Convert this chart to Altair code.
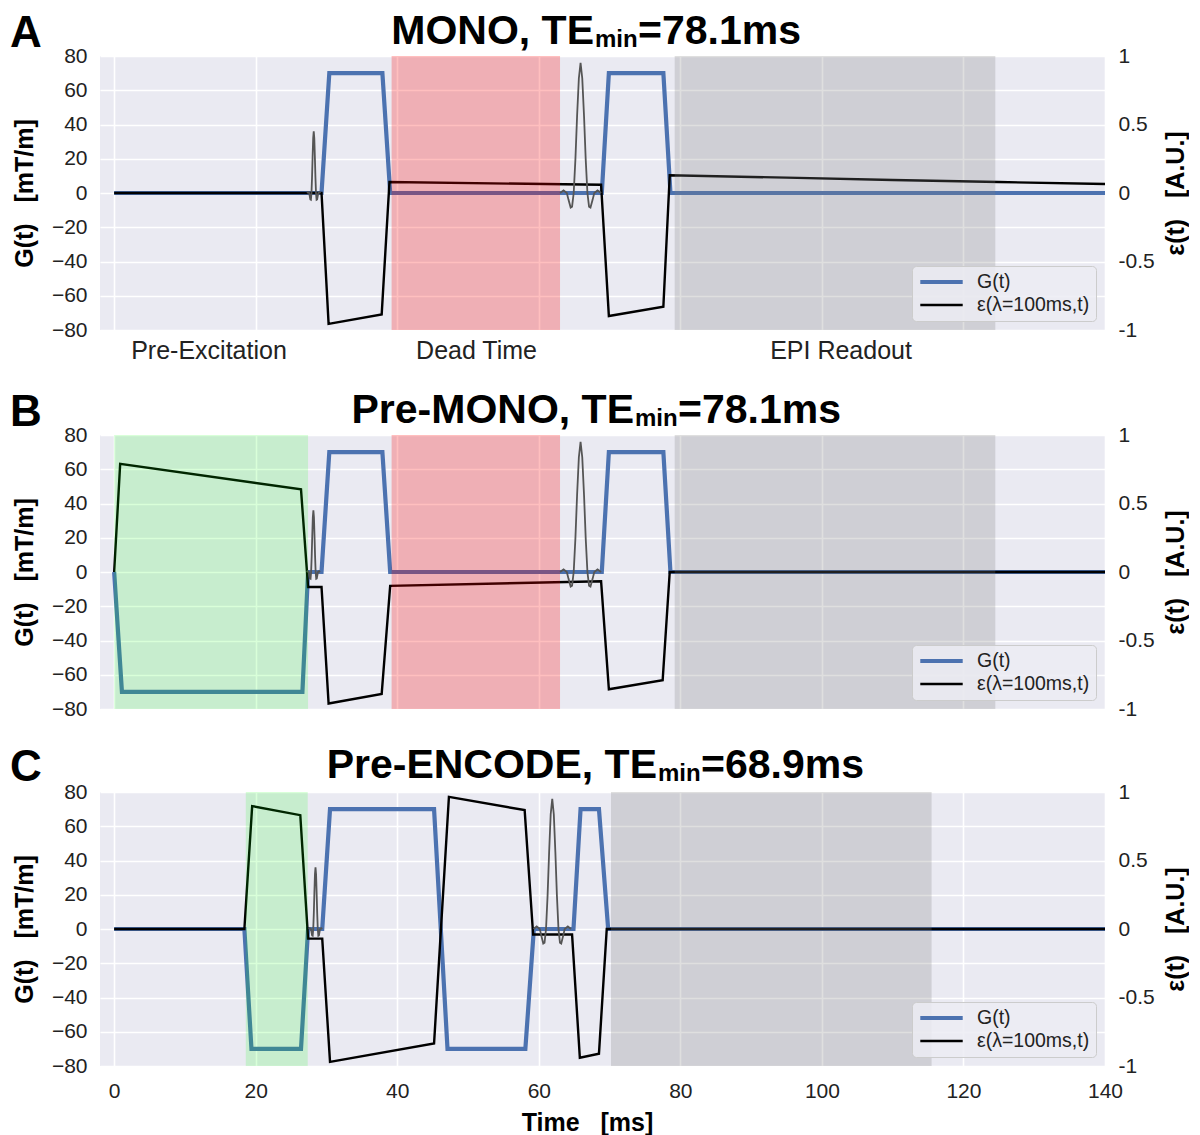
import altair as alt
import pandas as pd

FONT = "Liberation Sans"
BLUE = "#4C72B0"
BLACK = "#000000"
RF_GRAY = "#555555"
BG = "#EAEAF2"

W = 1005
H = 274

# ---------------- data ----------------
x_domain = [-2, 140]
x_ticks = [0, 20, 40, 60, 80, 100, 120, 140]
g_domain = [-80, 80]
g_ticks = [-80, -60, -40, -20, 0, 20, 40, 60, 80]
eps_domain = [-1, 1]
eps_ticks = [-1, -0.5, 0, 0.5, 1]

series_names = ["G(t)", "ε(λ=100ms,t)"]

panel_letters = ["A", "B", "C"]
title_main = ["MONO, TE", "Pre-MONO, TE", "Pre-ENCODE, TE"]
title_sub = ["min", "min", "min"]
title_tail = ["=78.1ms", "=78.1ms", "=68.9ms"]

x_title = "Time\u00a0\u00a0\u00a0[ms]"
g_title = "G(t)\u00a0\u00a0\u00a0[mT/m]"
eps_title = "ε(t)\u00a0\u00a0\u00a0[A.U.]"

# Panel A (MONO)
a_g_t = [0, 29.3, 30.4, 37.9, 39.0, 68.9, 69.9, 77.6, 78.6, 140]
a_g_v = [0, 0, 70, 70, 0, 0, 70, 70, 0, 0]
a_eps_t = [0, 29.3, 30.3, 37.8, 38.9, 68.8, 69.9, 77.6, 78.5, 95, 110, 125, 140]
a_eps_v = [0, 0, -0.955, -0.887, 0.08, 0.06, -0.898, -0.83, 0.13, 0.112, 0.095, 0.08, 0.066]
a_rf90_t = [27.25, 27.4, 27.56, 27.72, 27.8, 27.88, 27.96, 28.04, 28.12, 28.2,
            28.28, 28.36, 28.44, 28.52, 28.6, 28.68, 28.84, 29.0, 29.15]
a_rf90_v = [0, 0.5, 0, -3.8, -4, 0, 9, 21, 32, 36, 32, 21, 9, 0, -4, -3.8, 0, 0.5, 0]
a_rf180_t = [63.0, 63.5, 63.96, 64.2, 64.5, 64.7, 64.93, 65.17, 65.41, 65.66, 65.9,
             66.14, 66.39, 66.63, 66.87, 67.1, 67.3, 67.6, 67.84, 68.3, 68.8]
a_rf180_v = [0, 1.5, 0, -4, -8.5, -8, 0, 19.5, 45, 67, 76, 67, 45, 19.5, 0, -8, -8.5, -4, 0, 1.5, 0]
a_region_kind = ["dead", "readout"]
a_region_start = [39.2, 79.2]
a_region_end = [63.0, 124.5]
a_label_text = ["Pre-Excitation", "Dead Time", "EPI Readout"]
a_label_t = [13.4, 51.2, 102.7]

# Panel B (Pre-MONO)
b_g_t = [0, 1.1, 26.6, 27.4, 29.3, 30.4, 37.9, 39.0, 68.9, 69.9, 77.6, 78.6, 140]
b_g_v = [0, -70, -70, 0, 0, 70, 70, 0, 0, 70, 70, 0, 0]
b_eps_t = [0, 0.85, 26.4, 27.4, 29.3, 30.3, 37.8, 39.0, 68.8, 69.9, 77.5, 78.5, 140]
b_eps_v = [0, 0.789, 0.603, -0.109, -0.109, -0.96, -0.89, -0.101, -0.067, -0.856, -0.79, 0, 0]
b_rf90_t = [27.2, 27.35, 27.51, 27.67, 27.75, 27.83, 27.91, 27.99, 28.07, 28.15,
            28.23, 28.31, 28.39, 28.47, 28.55, 28.63, 28.79, 28.95, 29.1]
b_rf90_v = [0, 0.5, 0, -3.8, -4, 0, 9, 21, 32, 36, 32, 21, 9, 0, -4, -3.8, 0, 0.5, 0]
b_rf180_t = [63.0, 63.5, 63.96, 64.2, 64.5, 64.7, 64.93, 65.17, 65.41, 65.66, 65.9,
             66.14, 66.39, 66.63, 66.87, 67.1, 67.3, 67.6, 67.84, 68.3, 68.8]
b_rf180_v = [0, 1.5, 0, -4, -8.5, -8, 0, 19.5, 45, 67, 76, 67, 45, 19.5, 0, -8, -8.5, -4, 0, 1.5, 0]
b_region_kind = ["pre", "dead", "readout"]
b_region_start = [0, 39.2, 79.2]
b_region_end = [27.4, 63.0, 124.5]

# Panel C (Pre-ENCODE)
c_g_t = [0, 18.4, 19.4, 26.4, 27.4, 29.4, 30.5, 45.2, 47.1, 58.1, 59.3, 64.9, 65.9, 68.5, 69.8, 140]
c_g_v = [0, 0, -70, -70, 0, 0, 70, 70, -70, -70, 0, 0, 70, 70, 0, 0]
c_eps_t = [0, 18.4, 19.5, 26.3, 27.4, 29.4, 30.5, 45.2, 47.3, 58.0, 59.2, 64.7, 65.8, 68.5, 69.6, 140]
c_eps_v = [0, 0, 0.897, 0.831, -0.07, -0.07, -0.97, -0.836, 0.964, 0.868, -0.04, -0.04, -0.94, -0.91, 0, 0]
c_rf90_t = [27.5, 27.65, 27.81, 27.97, 28.05, 28.13, 28.21, 28.29, 28.37, 28.45,
            28.53, 28.61, 28.69, 28.77, 28.85, 28.93, 29.09, 29.25, 29.4]
c_rf90_v = [0, 0.5, 0, -3.8, -4, 0, 9, 21, 32, 36, 32, 21, 9, 0, -4, -3.8, 0, 0.5, 0]
c_rf180_t = [59.25, 59.7, 60.14, 60.36, 60.63, 60.81, 61.02, 61.24, 61.46, 61.68, 61.9,
             62.12, 62.34, 62.56, 62.78, 62.99, 63.17, 63.44, 63.66, 64.1, 64.55]
c_rf180_v = [0, 1.5, 0, -4, -8.5, -8, 0, 19.5, 45, 67, 76, 67, 45, 19.5, 0, -8, -8.5, -4, 0, 1.5, 0]
c_region_kind = ["pre", "readout"]
c_region_start = [18.6, 70.2]
c_region_end = [27.35, 115.5]

# ---------------- styles ----------------
REGION_FILL = {"pre": "#00FF00", "dead": "#FF0000", "readout": "#808080"}
REGION_OPACITY = {"pre": 0.15, "dead": 0.25, "readout": 0.25}

TITLE_X = [494, 534, 557]
TITLE_Y = [-12, -12, -14]
LETTER_Y = [-9, -9, -11]
SUB_W = 44

LEG = dict(
    orient="bottom-right", offset=9, title=None,
    fillColor="rgba(236,236,243,0.85)", strokeColor="#CCCCCC", cornerRadius=4,
    padding=6, symbolType="stroke", symbolSize=1800, labelFontSize=19.5,
    labelFont=FONT, labelColor="#222222", labelOffset=12, rowPadding=3,
    clipHeight=20, labelLimit=400,
)


def xenc(field, show, tick):
    ax = dict(values=x_ticks, grid=True, labelFlush=False, labelOverlap=False, domain=False)
    if show:
        ax.update(labels=True, ticks=False, title=x_title, labelPadding=14,
                  titlePadding=9, titleX=487)
    else:
        ax.update(labels=False, title=None)
        if tick:
            ax.update(ticks=True, tickSize=tick, tickColor="transparent")
        else:
            ax.update(ticks=False)
    return alt.X(f"{field}:Q", scale=alt.Scale(domain=x_domain, nice=False, zero=False),
                 axis=alt.Axis(**ax))


def color_enc():
    return alt.Color("series:N", scale=alt.Scale(domain=series_names, range=[BLUE, BLACK]),
                     legend=alt.Legend(**LEG))


def width_enc():
    return alt.StrokeWidth("series:N",
                           scale=alt.Scale(type="point", domain=series_names, range=[4.2, 2.4], padding=0),
                           legend=alt.Legend(**LEG))


def text_layer(txt, x, y, size, align):
    return alt.Chart(pd.DataFrame({"txt": [txt]})).mark_text(
        font=FONT, fontSize=size, fontWeight="bold", align=align, baseline="alphabetic", color="black"
    ).encode(x=alt.value(x), y=alt.value(y), text="txt:N")


def build_panel(k, g_t, g_v, e_t, e_v, rfs, reg_kind, reg_start, reg_end,
                labels=None, show_x=False, tick=0):
    gdf = pd.DataFrame({"t": g_t, "v": g_v, "series": series_names[0], "i": range(len(g_t))})
    edf = pd.DataFrame({"t": e_t, "v": e_v, "series": series_names[1], "i": range(len(e_t))})
    rf_rows = []
    for p, (rt, rv) in enumerate(rfs):
        for i, (tt, vv) in enumerate(zip(rt, rv)):
            rf_rows.append({"t": tt, "v": vv, "pulse": p, "i": i})
    rdf = pd.DataFrame(rf_rows)
    regdf = pd.DataFrame({
        "start": reg_start, "end": reg_end,
        "fill": [REGION_FILL[r] for r in reg_kind],
        "op": [REGION_OPACITY[r] for r in reg_kind],
    })

    g_layer = alt.Chart(gdf).mark_line().encode(
        x=xenc("t", show_x, tick),
        y=alt.Y("v:Q", scale=alt.Scale(domain=g_domain, nice=False, zero=False),
                axis=alt.Axis(values=g_ticks, grid=True, title=g_title, titlePadding=14,
                              labelPadding=13, labelFlush=False, labelOverlap=False)),
        color=color_enc(), strokeWidth=width_enc(), order="i:Q",
    )
    e_layer = alt.Chart(edf).mark_line().encode(
        x=xenc("t", show_x, tick),
        y=alt.Y("v:Q", scale=alt.Scale(domain=eps_domain, nice=False, zero=False),
                axis=alt.Axis(orient="right", values=eps_ticks, grid=False, title=eps_title,
                              titleAngle=270, titleBaseline="top", titlePadding=9,
                              labelPadding=13, labelFlush=False, labelOverlap=False,
                              labelExpr="datum.value < 0 ? '-' + (-datum.value) : '' + datum.value")),
        color=color_enc(), strokeWidth=width_enc(), order="i:Q",
    )
    rf_layer = alt.Chart(rdf).mark_line(color=RF_GRAY, strokeWidth=1.8).encode(
        x=xenc("t", show_x, tick),
        y=alt.Y("v:Q", scale=alt.Scale(domain=g_domain, nice=False, zero=False), axis=None),
        detail="pulse:N", order="i:Q",
    )
    reg_layer = alt.Chart(regdf).mark_rect().encode(
        x=xenc("start", show_x, tick), x2="end:Q",
        fill=alt.Fill("fill:N", scale=None), opacity=alt.Opacity("op:Q", scale=None),
    )
    layers = [g_layer, e_layer, rf_layer, reg_layer]
    if labels is not None:
        ldf = pd.DataFrame({"t": labels[1], "label": labels[0]})
        layers.append(alt.Chart(ldf).mark_text(
            font=FONT, fontSize=25, align="center", baseline="alphabetic", color="#222222"
        ).encode(x=xenc("t", show_x, tick), y=alt.value(H + 29), text="label:N"))
    layers.append(text_layer(title_main[k], TITLE_X[k], TITLE_Y[k], 41, "right"))
    layers.append(text_layer(title_sub[k], TITLE_X[k] + 1, TITLE_Y[k] + 3.3, 24, "left"))
    layers.append(text_layer(title_tail[k], TITLE_X[k] + SUB_W, TITLE_Y[k], 41, "left"))
    layers.append(text_layer(panel_letters[k], -90, LETTER_Y[k], 44, "left"))
    return alt.layer(*layers).resolve_scale(y="independent").properties(width=W, height=H)


pA = build_panel(0, a_g_t, a_g_v, a_eps_t, a_eps_v,
                 [(a_rf90_t, a_rf90_v), (a_rf180_t, a_rf180_v)],
                 a_region_kind, a_region_start, a_region_end,
                 labels=(a_label_text, a_label_t))
pB = build_panel(1, b_g_t, b_g_v, b_eps_t, b_eps_v,
                 [(b_rf90_t, b_rf90_v), (b_rf180_t, b_rf180_v)],
                 b_region_kind, b_region_start, b_region_end, tick=4)
pC = build_panel(2, c_g_t, c_g_v, c_eps_t, c_eps_v,
                 [(c_rf90_t, c_rf90_v), (c_rf180_t, c_rf180_v)],
                 c_region_kind, c_region_start, c_region_end, show_x=True)

chart = alt.vconcat(pA, pB, pC, spacing=26).resolve_scale(
    color="independent", strokeWidth="independent"
).resolve_legend(
    color="independent", strokeWidth="independent"
).properties(
    padding={"top": 3, "left": 2, "right": 0, "bottom": 0}
).configure_view(
    fill=BG, strokeWidth=0
).configure_axis(
    labelFont=FONT, labelFontSize=21, labelColor="#222222",
    titleFont=FONT, titleFontSize=25, titleFontWeight="bold", titleColor="black",
    gridColor="white", gridWidth=1.6, gridOpacity=1, domain=False, ticks=False,
)

chart.save("out.html", embed_options={"renderer": "svg", "actions": False})
